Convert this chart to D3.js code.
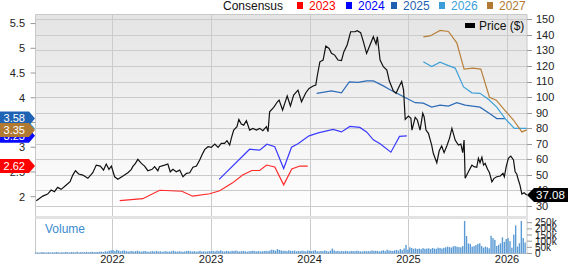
<!DOCTYPE html>
<html>
<head>
<meta charset="utf-8">
<script src="https://cdn.jsdelivr.net/npm/d3@7"></script>
<style>
body { margin: 0; background: #fff; }
svg { display: block; font-family: "Liberation Sans", Arial, sans-serif; }
</style>
</head>
<body>
<svg id="chart" width="568" height="264"></svg>
<script>
// price history ($)
const priceHistory = [
    ["2021-03-25",33.4],["2021-04-18",36.4],["2021-05-06",37.7],["2021-05-19",40.3],["2021-05-31",39.2],
    ["2021-06-12",42.0],["2021-06-25",40.7],["2021-07-14",43.5],["2021-07-28",45.6],["2021-08-07",49.9],
    ["2021-08-17",52.7],["2021-08-29",50.6],["2021-09-13",49.9],["2021-10-02",47.8],["2021-10-20",51.4],
    ["2021-11-02",56.3],["2021-11-17",55.7],["2021-11-29",53.1],["2021-12-09",57.0],["2021-12-19",53.6],
    ["2021-12-28",55.7],["2022-01-09",48.8],["2022-01-21",47.2],["2022-02-09",49.3],["2022-02-27",51.4],
    ["2022-03-12",53.6],["2022-03-17",55.3],["2022-03-27",57.4],["2022-04-05",60.0],["2022-04-18",57.4],
    ["2022-04-30",55.7],["2022-05-12",52.7],["2022-05-28",53.6],["2022-06-06",55.3],["2022-06-18",52.7],
    ["2022-06-24",55.3],["2022-07-13",56.3],["2022-07-25",57.0],["2022-08-03",52.0],["2022-08-13",53.6],
    ["2022-08-25",52.0],["2022-09-07",53.1],["2022-09-19",48.8],["2022-10-02",51.0],["2022-10-14",51.4],
    ["2022-10-26",54.9],["2022-11-08",55.7],["2022-11-20",59.6],["2022-11-30",63.4],["2022-12-09",66.4],
    ["2022-12-21",68.1],["2023-01-02",67.7],["2023-01-15",69.8],["2023-01-27",67.7],["2023-02-08",70.3],
    ["2023-02-20",70.3],["2023-03-01",72.0],["2023-03-11",69.2],["2023-03-17",73.5],["2023-03-26",78.8],
    ["2023-04-07",81.0],["2023-04-14",85.7],["2023-04-23",82.7],["2023-05-02",82.0],["2023-05-12",84.8],
    ["2023-05-24",78.8],["2023-06-05",79.9],["2023-06-18",78.8],["2023-06-30",79.9],["2023-07-12",78.4],
    ["2023-07-25",81.0],["2023-07-31",77.8],["2023-08-06",90.6],["2023-08-21",93.4],["2023-09-04",97.0],
    ["2023-09-10",98.1],["2023-09-23",91.7],["2023-10-01",96.0],["2023-10-10",100.7],["2023-10-22",94.3],
    ["2023-11-03",101.3],["2023-11-19",104.5],["2023-12-02",97.0],["2023-12-18",102.8],["2023-12-30",105.6],
    ["2024-01-14",107.1],["2024-01-24",107.8],["2024-01-30",114.2],["2024-02-08",122.7],["2024-02-20",123.8],
    ["2024-03-01",132.8],["2024-03-13",131.3],["2024-03-22",128.1],["2024-04-03",127.0],["2024-04-15",123.8],
    ["2024-04-28",123.4],["2024-05-07",129.2],["2024-05-19",133.5],["2024-06-01",142.0],["2024-06-17",142.0],
    ["2024-06-25",142.7],["2024-07-08",141.4],["2024-07-18",135.6],["2024-07-30",128.1],["2024-08-09",132.4],
    ["2024-08-24",138.8],["2024-09-03",134.1],["2024-09-08",138.8],["2024-09-18",123.8],["2024-09-30",119.5],
    ["2024-10-13",117.4],["2024-10-22",110.5],["2024-11-06",104.0],["2024-11-16",102.5],["2024-11-28",107.0],
    ["2024-12-07",110.0],["2024-12-14",104.5],["2024-12-20",85.7],["2025-01-01",87.8],["2025-01-10",86.4],
    ["2025-01-14",78.8],["2025-01-26",87.0],["2025-02-03",85.3],["2025-02-13",78.8],["2025-02-23",89.6],
    ["2025-02-28",87.4],["2025-03-07",78.8],["2025-03-16",76.7],["2025-03-28",69.2],["2025-04-03",63.9],
    ["2025-04-16",57.8],["2025-04-25",65.5],["2025-05-04",68.6],["2025-05-13",64.3],["2025-05-23",68.6],
    ["2025-06-02",73.5],["2025-06-11",79.9],["2025-06-23",72.4],["2025-07-05",69.2],["2025-07-14",69.8],
    ["2025-07-21",64.3],["2025-07-26",72.4],["2025-07-30",47.8],["2025-08-11",52.0],["2025-08-24",56.3],
    ["2025-09-01",55.3],["2025-09-11",54.9],["2025-09-17",60.7],["2025-09-23",57.8],["2025-09-30",61.3],
    ["2025-10-06",56.3],["2025-10-12",57.4],["2025-10-21",53.6],["2025-10-28",51.4],["2025-11-06",45.6],
    ["2025-11-14",47.8],["2025-11-24",48.8],["2025-12-07",49.3],["2025-12-17",51.0],["2025-12-22",48.8],
    ["2025-12-29",55.3],["2026-01-06",60.7],["2026-01-15",62.1],["2026-01-25",59.6],["2026-01-31",52.0],
    ["2026-02-06",50.6],["2026-02-12",46.7],["2026-02-18",43.5],["2026-02-25",37.7],["2026-03-05",38.5],
    ["2026-03-15",37.08]
];

// consensus EPS estimate history per fiscal year
const eps2023 = [
    ["2022-01-28",1.92],["2022-04-23",1.96],["2022-06-25",2.13],["2022-09-15",2.11],["2022-10-25",2.01],
    ["2022-12-27",2.06],["2023-02-02",2.12],["2023-03-22",2.28],["2023-04-28",2.44],["2023-06-01",2.53],
    ["2023-06-30",2.53],["2023-07-26",2.64],["2023-08-25",2.60],["2023-09-27",2.24],["2023-10-27",2.56],
    ["2023-11-26",2.62],["2023-12-25",2.62]
];
const eps2024 = [
    ["2023-01-31",2.35],["2023-05-24",2.96],["2023-06-30",2.94],["2023-07-27",3.06],["2023-08-25",3.01],
    ["2023-09-27",2.57],["2023-10-26",3.00],["2023-11-19",3.07],["2023-12-30",3.23],["2024-02-02",3.29],
    ["2024-03-28",3.36],["2024-04-28",3.31],["2024-05-29",3.42],["2024-07-05",3.40],["2024-07-30",3.31],
    ["2024-08-24",3.15],["2024-09-18",3.07],["2024-10-28",2.90],["2024-11-29",3.22],["2024-12-26",3.23]
];
const eps2025 = [
    ["2024-01-27",4.09],["2024-03-22",4.14],["2024-04-28",4.10],["2024-05-27",4.32],["2024-06-29",4.31],
    ["2024-07-30",4.34],["2024-08-24",4.34],["2024-09-30",4.24],["2024-10-25",4.16],["2024-12-07",4.04],
    ["2025-01-26",3.90],["2025-02-25",3.89],["2025-03-28",3.81],["2025-04-28",3.85],["2025-05-29",3.83],
    ["2025-06-29",3.90],["2025-07-30",3.85],["2025-09-23",3.81],["2025-10-31",3.67],["2025-11-24",3.58],
    ["2025-12-25",3.58]
];
const eps2026 = [
    ["2025-02-25",4.73],["2025-03-28",4.63],["2025-04-28",4.72],["2025-05-29",4.65],["2025-06-23",4.60],
    ["2025-07-24",4.22],["2025-08-24",4.10],["2025-09-23",4.09],["2025-10-24",3.97],["2025-11-24",3.81],
    ["2025-12-25",3.58],["2026-01-28",3.38],["2026-02-25",3.38],["2026-03-15",3.38]
];
const eps2027 = [
    ["2025-02-25",5.23],["2025-03-22",5.25],["2025-04-28",5.36],["2025-05-29",5.34],["2025-06-29",5.11],
    ["2025-07-26",4.58],["2025-08-28",4.60],["2025-09-26",4.58],["2025-10-28",4.01],["2025-11-22",3.95],
    ["2025-12-25",3.74],["2026-01-25",3.55],["2026-02-25",3.31],["2026-03-15",3.35]
];

// weekly volume (thousands), one bar per week starting at volumeStart
const volumeStart = "2021-03-22";
const volume2021 = [8,9,7,10,12,8,9,11,8,10, 9,12,10,8,11,9,13,10,9,12, 11,10,14,9,12,10,11,13,10,12,
    14,11,13,12,15,14,12,18,16,22, 26];
const volume2022 = [28,20,30,24,18,22,25,19,16,18, 21,16,19,23,17,15,18,20,16,14, 17,19,15,21,16,18,14,17,19,15,
    16,18,23,17,15,19,16,14,17,20, 22,18,16,19,15,17,21,16,18,15, 17,19];
const volume2023 = [19,21,17,23,20,26,18,16,21,19, 17,22,20,24,18,16,19,21,17,15, 18,20,23,19,17,21,16,18,20,22,
    19,25,31,27,23,36,29,25,21,23, 19,26,22,20,24,18,21,19,23,20, 17,25];
const volume2024 = [21,19,23,26,18,17,21,19,25,20, 16,23,40,26,19,21,17,20,18,22, 19,17,21,20,18,23,19,17,16,21,
    18,20,19,25,21,23,20,17,22,26, 19,31,25,23,21,26,29,23,36,27, 41,69,31];
const volume2025 = [50,45,38,42,36,40,35,44,38,40, 42,36,45,40,38,48,44,40,46,50, 55,52,48,58,60,55,52,50,60,264,
    142,82,78,56,60,69,78,83,61,47, 56,50,42,144,125,111,61,70,83,131, 95,117];
const volume2026 = [125,100,47,153,228,56,83,264,125,89];

const priceTicks = [150,140,130,120,110,100,90,80,70,60,50,40,30];
const epsTicks = [2,2.5,3,3.5,4,4.5,5,5.5];
const volumeTicks = [0,50,100,150,200,250];
const yearTicks = ["2022","2023","2024","2025","2026"];

const series = [
    { name: "2023", data: eps2023, color: "#ff2a2a", legend: "#ff0000", badge: "#ff0000" },
    { name: "2024", data: eps2024, color: "#3b3bff", legend: "#0000ff", badge: "#0a0aff" },
    { name: "2025", data: eps2025, color: "#2e6bb8", legend: "#1f5fb0", badge: "#1f63b5" },
    { name: "2026", data: eps2026, color: "#3ea1d8", legend: "#3a9fd8", badge: "#3ea1d8" },
    { name: "2027", data: eps2027, color: "#b8803a", legend: "#b07a32", badge: "#b07a32" }
];

const parse = d3.timeParse("%Y-%m-%d");
const svg = d3.select("#chart");

// layout
const plotLeft = 35.5, plotRight = 527;
const plotTop = 14, mainBottom = 216;
const volBottom = 253.5;

const x = d3.scaleTime()
    .domain([parse("2021-03-22"), parse("2026-03-16")])
    .range([plotLeft, plotRight]);
const yPrice = d3.scaleLinear().domain([23.6, 153.4]).range([mainBottom, plotTop]);
const yEps = d3.scaleLinear().domain([1.61, 5.693]).range([mainBottom, plotTop]);
const yVol = d3.scaleLinear().domain([0, 250]).range([volBottom, 222.7]);

// background gradient
const defs = svg.append("defs");
const grad = defs.append("linearGradient").attr("id", "bg").attr("x1", 0).attr("y1", 0).attr("x2", 0).attr("y2", 1);
grad.append("stop").attr("offset", "0%").attr("stop-color", "#e4e4e4");
grad.append("stop").attr("offset", "100%").attr("stop-color", "#ffffff");

svg.append("rect")
    .attr("x", plotLeft).attr("y", plotTop)
    .attr("width", plotRight - plotLeft).attr("height", mainBottom - plotTop)
    .attr("fill", "url(#bg)");

// horizontal grid on price ticks
svg.append("g")
    .selectAll("line")
    .data(priceTicks)
    .join("line")
    .attr("x1", plotLeft).attr("x2", plotRight)
    .attr("y1", d => Math.round(yPrice(d)) + 0.5)
    .attr("y2", d => Math.round(yPrice(d)) + 0.5)
    .attr("stroke", "#cbcbcb");

// vertical year grid through both panels
svg.append("g")
    .selectAll("line")
    .data(yearTicks)
    .join("line")
    .attr("x1", d => Math.round(x(parse(d + "-01-01"))) + 0.5)
    .attr("x2", d => Math.round(x(parse(d + "-01-01"))) + 0.5)
    .attr("y1", plotTop).attr("y2", volBottom)
    .attr("stroke", "#cbcbcb");

// frame
svg.append("path")
    .attr("d", `M${plotLeft},${volBottom}V${plotTop + 0.5}H${plotRight}V${volBottom}`)
    .attr("fill", "none")
    .attr("stroke", "#c8c8c8");
svg.append("rect")
    .attr("x", plotLeft).attr("y", mainBottom)
    .attr("width", plotRight - plotLeft).attr("height", 3)
    .attr("fill", "#e2e2e2");
svg.append("line")
    .attr("x1", plotLeft).attr("x2", plotRight)
    .attr("y1", volBottom).attr("y2", volBottom)
    .attr("stroke", "#c8c8c8");

// volume bars
const volumeAll = volume2021.concat(volume2022, volume2023, volume2024, volume2025, volume2026);
const volStartDate = parse(volumeStart);
svg.append("g")
    .selectAll("rect")
    .data(volumeAll)
    .join("rect")
    .attr("x", (d, i) => x(d3.timeMonday.offset(volStartDate, i)) - 0.7)
    .attr("width", 1.4)
    .attr("y", d => yVol(d))
    .attr("height", d => volBottom - yVol(d))
    .attr("fill", "#5b9bd5");

svg.append("text")
    .attr("x", 45).attr("y", 233)
    .attr("font-size", 12)
    .attr("fill", "#3a8cd0")
    .text("Volume");

// EPS lines
const epsLine = d3.line()
    .x(d => x(parse(d[0])))
    .y(d => yEps(d[1]));
svg.append("g")
    .selectAll("path")
    .data(series)
    .join("path")
    .attr("d", d => epsLine(d.data))
    .attr("fill", "none")
    .attr("stroke", d => d.color)
    .attr("stroke-width", 1.2);

// price line
const priceLine = d3.line()
    .x(d => x(parse(d[0])))
    .y(d => yPrice(d[1]));
svg.append("path")
    .attr("d", priceLine(priceHistory))
    .attr("fill", "none")
    .attr("stroke", "#111")
    .attr("stroke-width", 1.2);

// right price axis
const rightAxis = svg.append("g").attr("font-size", 11).attr("fill", "#222");
rightAxis.selectAll("line")
    .data(priceTicks)
    .join("line")
    .attr("x1", plotRight).attr("x2", plotRight + 5)
    .attr("y1", d => Math.round(yPrice(d)) + 0.5)
    .attr("y2", d => Math.round(yPrice(d)) + 0.5)
    .attr("stroke", "#999");
rightAxis.selectAll("text")
    .data(priceTicks)
    .join("text")
    .attr("x", 536)
    .attr("y", d => yPrice(d))
    .attr("dy", "0.35em")
    .text(d => d);

// volume axis
const volAxis = svg.append("g").attr("font-size", 10).attr("fill", "#222");
volAxis.selectAll("line")
    .data(volumeTicks)
    .join("line")
    .attr("x1", plotRight).attr("x2", plotRight + 5)
    .attr("y1", d => yVol(d)).attr("y2", d => yVol(d))
    .attr("stroke", "#999");
volAxis.selectAll("text")
    .data(volumeTicks)
    .join("text")
    .attr("x", 535)
    .attr("y", d => yVol(d))
    .attr("dy", "0.35em")
    .text(d => d === 0 ? "0" : d + "k");

// left EPS axis
const leftAxis = svg.append("g").attr("font-size", 11).attr("fill", "#222");
leftAxis.selectAll("line")
    .data(epsTicks)
    .join("line")
    .attr("x1", plotLeft - 5).attr("x2", plotLeft)
    .attr("y1", d => yEps(d)).attr("y2", d => yEps(d))
    .attr("stroke", "#999");
leftAxis.selectAll("text")
    .data(epsTicks)
    .join("text")
    .attr("x", 25)
    .attr("y", d => yEps(d))
    .attr("dy", "0.35em")
    .attr("text-anchor", "end")
    .text(d => d);

// x axis years
svg.append("g")
    .attr("font-size", 11)
    .attr("fill", "#222")
    .selectAll("text")
    .data(yearTicks)
    .join("text")
    .attr("x", d => x(parse(d + "-01-01")))
    .attr("y", 263)
    .attr("text-anchor", "middle")
    .text(d => d);

// last-value badges on the left, drawn so the visible ones end on top
const badgeOrder = ["2026", "2024", "2025", "2027", "2023"];
badgeOrder.forEach(name => {
    const s = series.find(v => v.name === name);
    const last = s.data[s.data.length - 1][1];
    const y = yEps(last);
    svg.append("path")
        .attr("d", `M0,${y - 7}H29L35,${y}L29,${y + 7}H0Z`)
        .attr("fill", s.badge);
    svg.append("text")
        .attr("x", 25).attr("y", y)
        .attr("dy", "0.36em")
        .attr("text-anchor", "end")
        .attr("font-size", 11)
        .attr("fill", "#fff")
        .text(last.toFixed(2));
});

// last price badge on the right
const lastPrice = priceHistory[priceHistory.length - 1][1];
const py = yPrice(lastPrice);
svg.append("path")
    .attr("d", `M${plotRight},${py}L${plotRight + 7},${py - 7}H568V${py + 7}H${plotRight + 7}Z`)
    .attr("fill", "#000");
svg.append("text")
    .attr("x", 536).attr("y", py)
    .attr("dy", "0.36em")
    .attr("font-size", 11.5)
    .attr("fill", "#fff")
    .text(lastPrice.toFixed(2));

// legend
const legend = svg.append("g").attr("font-size", 12);
legend.append("text").attr("x", 223).attr("y", 10).attr("fill", "#111").text("Consensus");
const legendX = [297, 346, 391, 439, 487];
series.forEach((s, i) => {
    legend.append("rect")
        .attr("x", legendX[i]).attr("y", 2)
        .attr("width", 6).attr("height", 7)
        .attr("fill", s.legend);
    legend.append("text")
        .attr("x", legendX[i] + 12).attr("y", 10)
        .attr("fill", s.legend)
        .text(s.name);
});

// price legend inside the plot
svg.append("rect")
    .attr("x", 465).attr("y", 23)
    .attr("width", 10).attr("height", 5)
    .attr("fill", "#000");
svg.append("text")
    .attr("x", 479).attr("y", 29.5)
    .attr("font-size", 12)
    .attr("fill", "#111")
    .text("Price ($)");
</script>
</body>
</html>
